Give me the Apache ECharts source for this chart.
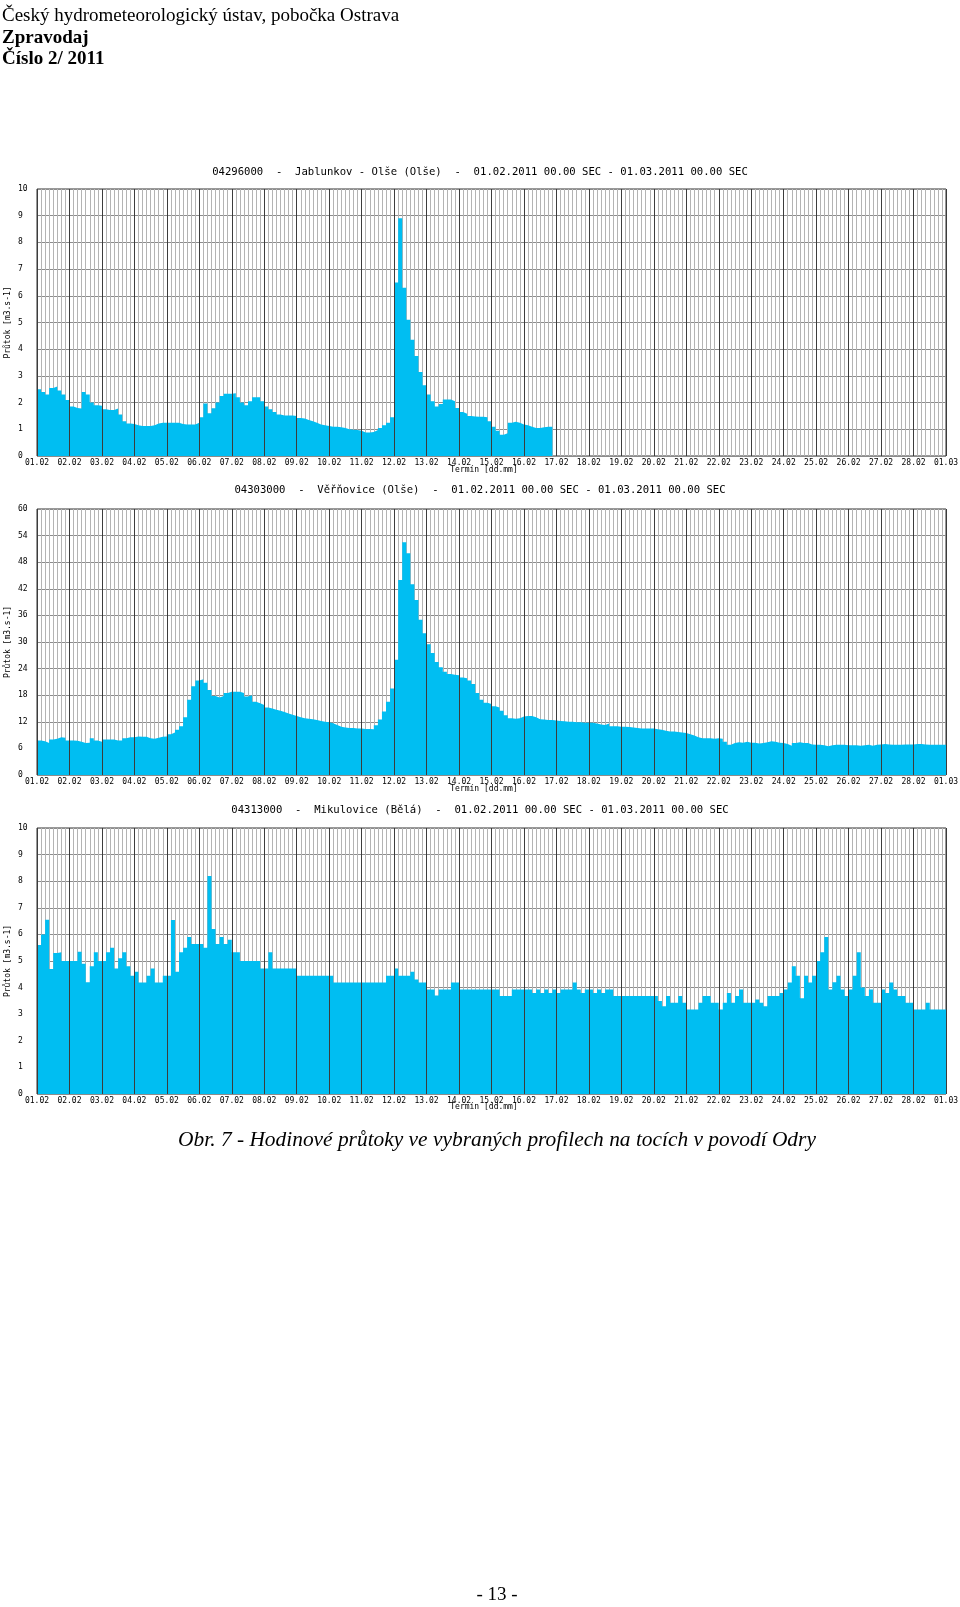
<!DOCTYPE html>
<html><head><meta charset="utf-8">
<script src="https://cdn.jsdelivr.net/npm/echarts@6/dist/echarts.min.js"></script>
<style>html,body{margin:0;padding:0;background:#fff}#c{width:960px;height:1607px}</style>
</head><body><div id="c"></div>
<script>
// ---- data (3-hour steps starting 01.02.2011 00:00) ----
const STEP_HOURS = 3;
const dayLabels = ['01.02','02.02','03.02','04.02','05.02','06.02','07.02','08.02','09.02','10.02',
  '11.02','12.02','13.02','14.02','15.02','16.02','17.02','18.02','19.02','20.02','21.02','22.02',
  '23.02','24.02','25.02','26.02','27.02','28.02','01.03'];
const stationTitles = [
  '04296000  -  Jablunkov - Olše (Olše)  -  01.02.2011 00.00 SEC - 01.03.2011 00.00 SEC',
  '04303000  -  Věřňovice (Olše)  -  01.02.2011 00.00 SEC - 01.03.2011 00.00 SEC',
  '04313000  -  Mikulovice (Bělá)  -  01.02.2011 00.00 SEC - 01.03.2011 00.00 SEC'
];
const yMax = [10, 60, 10];
const yInterval = [1, 6, 1];
const yAxisName = 'Průtok [m3.s-1]';
const xAxisName = 'Termín [dd.mm]';

const jablunkov = [
  2.5,2.4,2.3,2.55,2.6,2.45,2.3,2.1,
  1.85,1.8,1.78,2.4,2.3,2.0,1.9,1.88,
  1.75,1.72,1.72,1.78,1.55,1.3,1.22,1.2,
  1.15,1.12,1.12,1.12,1.15,1.22,1.25,1.25,
  1.25,1.25,1.25,1.2,1.18,1.18,1.18,1.25,
  1.45,1.97,1.6,1.79,2.0,2.25,2.33,2.33,
  2.35,2.2,2.0,1.9,2.05,2.2,2.2,2.05,
  1.85,1.75,1.65,1.55,1.52,1.52,1.52,1.5,
  1.42,1.4,1.35,1.3,1.25,1.18,1.15,1.12,
  1.1,1.1,1.08,1.05,1.0,0.98,0.97,0.95,
  0.88,0.88,0.9,0.97,1.05,1.15,1.25,1.45,
  6.5,8.9,6.3,5.1,4.35,3.75,3.15,2.65,
  2.3,2.05,1.85,1.95,2.12,2.12,2.05,1.8,
  1.65,1.58,1.5,1.48,1.47,1.47,1.45,1.3,
  1.1,0.95,0.8,0.85,1.25,1.28,1.25,1.18,
  1.15,1.1,1.05,1.05,1.08,1.1,1.1
];
const verovice = [
  7.8,7.6,7.2,8.0,8.2,8.5,8.4,7.8,
  7.8,7.7,7.5,7.2,7.3,8.3,7.8,7.5,
  8.0,8.0,8.0,7.8,7.8,8.3,8.5,8.5,
  8.7,8.6,8.6,8.3,8.2,8.4,8.6,8.7,
  9.2,9.6,10.2,11.0,13.0,17.0,20.0,21.3,
  21.6,20.8,19.2,17.8,17.5,17.8,18.5,18.8,
  18.8,18.8,18.5,17.7,18.0,16.5,16.2,15.8,
  15.2,15.0,14.7,14.5,14.2,13.9,13.6,13.3,
  13.0,12.8,12.7,12.6,12.4,12.2,12.0,11.9,
  11.7,11.3,10.9,10.7,10.6,10.6,10.5,10.5,
  10.4,10.4,10.3,11.2,12.5,14.3,16.5,19.5,
  26,44,52.5,50,43,39.5,35,32,
  29.5,27.5,25.5,24.3,23.3,22.8,22.6,22.5,
  22,21.8,21.3,20.5,18.5,17,16.3,16.0,
  15.5,15.2,14.5,13.5,12.8,12.7,12.8,13.2,
  13.3,13.3,13.0,12.6,12.5,12.4,12.4,12.3,
  12.2,12.1,12.0,12.0,11.9,11.9,11.8,11.8,
  11.8,11.6,11.4,11.3,11.6,11.0,11.0,10.9,
  10.9,10.8,10.7,10.6,10.5,10.5,10.5,10.5,
  10.3,10.2,10.0,9.8,9.8,9.7,9.6,9.5,
  9.2,8.9,8.5,8.3,8.3,8.3,8.2,8.3,
  8.2,7.5,6.8,7.2,7.4,7.3,7.5,7.3,
  7.3,7.1,7.2,7.4,7.6,7.5,7.3,7.2,
  7.0,6.6,7.2,7.4,7.2,7.2,6.9,6.8,
  6.8,6.7,6.5,6.7,6.8,6.8,6.8,6.7,
  6.7,6.7,6.6,6.7,6.8,6.6,6.8,6.9,
  7.0,6.9,6.8,6.8,6.8,6.9,6.9,6.9,
  7.0,7.0,6.9,6.8,6.8,6.8,6.8,6.8
];
const mikulovice = [
  5.6,6.0,6.55,4.7,5.3,5.33,5.0,5.0,
  5.0,5.0,5.35,4.9,4.2,4.8,5.33,5.0,
  5.0,5.33,5.5,4.72,5.1,5.33,4.8,4.45,
  4.6,4.19,4.19,4.45,4.72,4.19,4.19,4.45,
  4.45,6.54,4.6,5.33,5.5,5.9,5.64,5.64,
  5.64,5.5,8.2,6.2,5.64,5.9,5.64,5.8,
  5.33,5.33,5.0,5.0,5.0,5.0,5.0,4.72,
  4.72,5.33,4.72,4.72,4.72,4.72,4.72,4.72,
  4.45,4.45,4.45,4.45,4.45,4.45,4.45,4.45,
  4.45,4.19,4.19,4.19,4.19,4.19,4.19,4.19,
  4.19,4.19,4.19,4.19,4.19,4.19,4.45,4.45,
  4.72,4.45,4.45,4.45,4.6,4.3,4.19,4.19,
  3.93,3.93,3.7,3.93,3.93,3.93,4.19,4.19,
  3.93,3.93,3.93,3.93,3.93,3.93,3.93,3.93,
  3.93,3.93,3.68,3.68,3.68,3.93,3.93,3.93,
  3.93,3.93,3.8,3.93,3.8,3.93,3.8,3.93,
  3.8,3.93,3.93,3.93,4.19,3.93,3.8,3.93,
  3.93,3.8,3.93,3.8,3.93,3.93,3.68,3.68,
  3.68,3.68,3.68,3.68,3.68,3.68,3.68,3.68,
  3.68,3.5,3.3,3.68,3.43,3.43,3.68,3.43,
  3.18,3.18,3.18,3.43,3.68,3.68,3.43,3.43,
  3.18,3.43,3.8,3.43,3.68,3.93,3.43,3.43,
  3.43,3.55,3.43,3.3,3.68,3.68,3.68,3.8,
  3.93,4.19,4.8,4.45,3.6,4.45,4.19,4.45,
  5.0,5.33,5.9,3.93,4.2,4.45,3.93,3.68,
  3.93,4.45,5.33,4.0,3.68,3.93,3.43,3.43,
  3.93,3.8,4.19,3.93,3.68,3.68,3.43,3.43,
  3.18,3.18,3.18,3.43,3.18,3.18,3.18,3.18
];
const stations = [jablunkov, verovice, mikulovice];

// ---- layout ----
const gridTops = [189, 509, 828];
const gridHeights = [267, 266, 266];
const titleY = [172, 490, 810];
const terminY = [470, 789, 1107];
const MONO = 'DejaVu Sans Mono';
const SERIF = '"Liberation Serif","Times New Roman",serif';
const FILL = '#00bef2';
const totalHours = (dayLabels.length - 1) * 24;

const chart = echarts.init(document.getElementById('c'), null, {renderer: 'canvas'});

const grids = [], xAxes = [], yAxes = [], series = [];
stations.forEach((vals, i) => {
  grids.push({left: 37, top: gridTops[i], width: 909, height: gridHeights[i], show: true,
    borderColor: '#333', borderWidth: 1, backgroundColor: 'transparent',
    containLabel: false, outerBoundsMode: 'none'});
  xAxes.push({
    gridIndex: i, type: 'value', min: 0, max: totalHours, interval: 24,
    axisLine: {show: false}, axisTick: {show: false},
    axisLabel: {show: true, fontSize: 8, fontFamily: MONO, color: '#000', margin: 3,
      showMinLabel: true, showMaxLabel: true, hideOverlap: false,
      formatter: v => dayLabels[Math.round(v / 24)] || ''},
    splitLine: {show: false},
    minorTick: {show: false, splitNumber: 8},
    minorSplitLine: {show: true, lineStyle: {color: '#b4b4b4', width: 1}},
    z: 0
  });
  xAxes.push({
    gridIndex: i, type: 'value', min: 0, max: totalHours, interval: 24, position: 'bottom',
    axisLine: {show: false}, axisTick: {show: false}, axisLabel: {show: false},
    splitLine: {show: true, lineStyle: {color: '#3c3c3c', width: 1}},
    z: 3
  });
  yAxes.push({
    gridIndex: i, type: 'value', min: 0, max: yMax[i], interval: yInterval[i],
    axisLine: {show: false}, axisTick: {show: false},
    axisLabel: {align: 'left', margin: 19, fontSize: 8, fontFamily: MONO, color: '#000'},
    splitLine: {show: true, lineStyle: {color: '#8c8c8c', width: 1}}
  });
  const pts = vals.map((v, k) => [k * STEP_HOURS, v]);
  pts.push([vals.length * STEP_HOURS, vals[vals.length - 1]]);
  series.push({
    type: 'line', xAxisIndex: 2 * i, yAxisIndex: i, step: 'end', symbol: 'none',
    lineStyle: {width: 0, opacity: 0}, areaStyle: {color: FILL, opacity: 1},
    data: pts, silent: true, z: 2
  });
});

const graphics = [
  {type: 'text', left: 2, top: 7, style: {text: 'Český hydrometeorologický ústav, pobočka Ostrava',
    font: '19px ' + SERIF, fill: '#000'}},
  {type: 'text', left: 2, top: 29, style: {text: 'Zpravodaj', font: 'bold 19px ' + SERIF, fill: '#000'}},
  {type: 'text', left: 2, top: 50, style: {text: 'Číslo 2/ 2011', font: 'bold 19px ' + SERIF, fill: '#000'}},
  {type: 'text', x: 497, y: 1140, style: {text: 'Obr. 7 - Hodinové průtoky ve vybraných profilech na tocích v povodí Odry',
    font: 'italic 21.4px ' + SERIF, fill: '#000', align: 'center', verticalAlign: 'middle'}},
  {type: 'text', x: 497, y: 1595, style: {text: '- 13 -', font: '19px ' + SERIF, fill: '#000',
    align: 'center', verticalAlign: 'middle'}}
];
stationTitles.forEach((t, i) => {
  graphics.push({type: 'text', x: 480, y: titleY[i], style: {text: t, font: '10.6px ' + MONO,
    fill: '#000', align: 'center', verticalAlign: 'middle'}});
  graphics.push({type: 'text', x: 484, y: terminY[i], style: {text: xAxisName, font: '8px ' + MONO,
    fill: '#000', align: 'center', verticalAlign: 'middle'}});
  graphics.push({type: 'text', x: 8, y: gridTops[i] + gridHeights[i] / 2, rotation: Math.PI / 2,
    style: {text: yAxisName, font: '8px ' + MONO, fill: '#000', align: 'center', verticalAlign: 'middle'}});
});

chart.setOption({
  animation: false,
  backgroundColor: '#fff',
  grid: grids, xAxis: xAxes, yAxis: yAxes, series: series,
  graphic: graphics
});
</script></body></html>
